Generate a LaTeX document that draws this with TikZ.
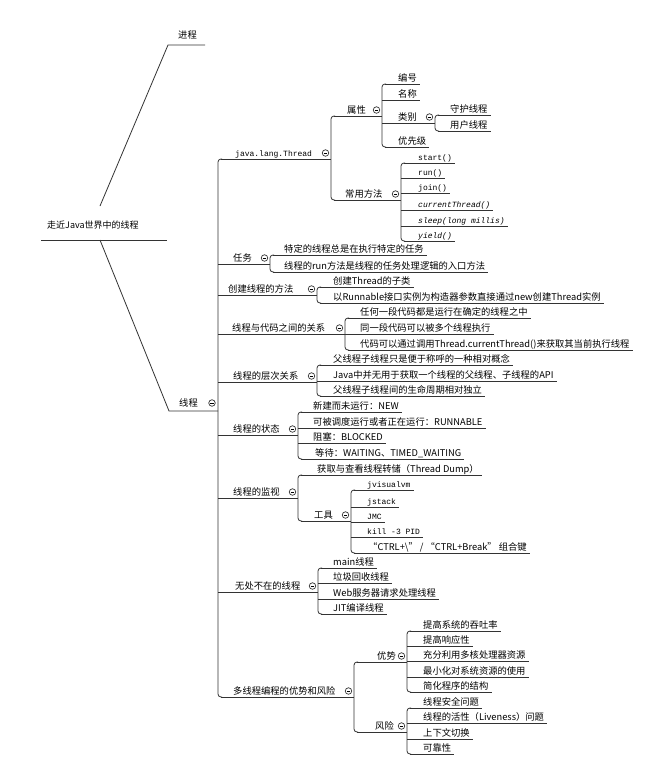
\documentclass[tikz,border=0pt]{standalone}
\usepackage{fontspec}
\setmainfont{Noto Sans CJK SC}
\newfontfamily\lmono{Liberation Mono}
\usetikzlibrary{calc}
% leaf: [style]{name}{startx}{y}{textx}{text}
\newcommand\lf[6][lbl]{%
  \node[#1,anchor=base west] (#2) at (#5,#4-2.5) {#6};
  \draw[ln] (#3,#4) -- ($(#2.east |- #3,#4)+(3,0)$);}
% parent: [style]{name}{startx}{y}{textx}{text}{bracketx}
\newcommand\pn[7][lbl]{%
  \node[#1,anchor=base west] (#2) at (#5,#4-2.5) {#6};
  \draw[ln] (#3,#4) -- (#7,#4);
  \node[tog] (#2c) at (#7-5.5,#4-6) {};
  \draw[line width=0.6pt] ($(#2c)+(-1.7,0)$) -- ($(#2c)+(1.7,0)$);}
% bracket: {x}{y1}{y2}
\newcommand\brk[3]{\draw[ln,rounded corners=3pt] (#1+4,#2) -- (#1,#2) -- (#1,#3) -- (#1+4,#3);}
\begin{document}
\begin{tikzpicture}[x=1pt,y=-1pt,
  ln/.style={draw=black!80,line width=0.8pt},
  lbl/.style={inner sep=0pt,font=\fontsize{9.3}{11}\selectfont,text=black},
  lat/.style={inner sep=0pt,font=\lmono\fontsize{8}{10}\selectfont,text=black},
  lati/.style={inner sep=0pt,font=\lmono\itshape\fontsize{8}{10}\selectfont,text=black},
  tog/.style={circle,draw=black!80,line width=0.7pt,inner sep=0pt,minimum size=6.5pt}]
\useasboundingbox (0,0) rectangle (670,761);
\fill[white] (0,0) rectangle (670,761);

% root
\node[lbl,anchor=base west,font=\fontsize{9}{11}\selectfont] (root) at (47,228) {走近Java世界中的线程};
\draw[ln] (41,240) -- (167,240);
\node[lbl,anchor=base west] (jc) at (178,38.5) {进程};
\draw[ln] (100,206) -- (168,45) -- (205,45);
\node[lbl,anchor=base west] (xc) at (179,406) {线程};
\draw[ln] (100,240) -- (169,411) -- (218,411);
\node[tog] (xcc) at (212,403) {};
\draw[line width=0.6pt] ($(xcc)+(-1.7,0)$) -- ($(xcc)+(1.7,0)$);

% main bracket
\brk{218}{159}{697}

% java.lang.Thread
\pn[lat]{jlt}{221}{159}{235}{java.lang.Thread}{331}
\brk{331}{116}{200}
\pn{sx}{334}{116}{347}{属性}{382}
\brk{382}{84}{147}
\lf{bh}{385}{84}{398}{编号}
\lf{mc}{382}{100}{398}{名称}
\pn{lb}{382}{123}{398}{类别}{435}
\brk{435}{115}{131}
\lf{sh}{438}{115}{450}{守护线程}
\lf{yh}{438}{131}{450}{用户线程}
\lf{yxj}{385}{147}{398}{优先级}
\pn{cy}{334}{200}{345}{常用方法}{401}
\brk{401}{163}{241}
\lf[lat]{m1}{404}{163}{418}{start()}
\lf[lat]{m2}{401}{178}{418}{run()}
\lf[lat]{m3}{401}{193}{418}{join()}
\lf[lati]{m4}{401}{210}{418}{currentThread()}
\lf[lati]{m5}{401}{226}{418}{sleep(long millis)}
\lf[lati]{m6}{404}{241}{418}{yield()}

% 任务
\pn{rw}{218}{264}{233}{任务}{270}
\brk{270}{255}{272}
\lf{rw1}{273}{255}{284}{特定的线程总是在执行特定的任务}
\lf{rw2}{273}{272}{284}{线程的run方法是线程的任务处理逻辑的入口方法}

% 创建线程的方法
\pn{cj}{218}{295}{228}{创建线程的方法}{317}
\brk{317}{287}{303}
\lf{cj1}{320}{287}{333}{创建Thread的子类}
\lf{cj2}{320}{303}{333}{以Runnable接口实例为构造器参数直接通过new创建Thread实例}

% 线程与代码之间的关系
\pn{gx}{218}{334}{232}{线程与代码之间的关系}{345}
\brk{345}{318}{350}
\lf{gx1}{348}{318}{360}{任何一段代码都是运行在确定的线程之中}
\lf{gx2}{345}{334}{360}{同一段代码可以被多个线程执行}
\lf{gx3}{348}{350}{360}{代码可以通过调用Thread.currentThread()来获取其当前执行线程}

% 线程的层次关系
\pn{cc}{218}{382}{233}{线程的层次关系}{317}
\brk{317}{365}{396}
\lf{cc1}{320}{365}{333}{父线程子线程只是便于称呼的一种相对概念}
\lf{cc2}{317}{381}{333}{Java中并无用于获取一个线程的父线程、子线程的API}
\lf{cc3}{320}{396}{333}{父线程子线程间的生命周期相对独立}

% 线程的状态
\pn{zt}{218}{435}{233}{线程的状态}{298}
\brk{298}{412}{459}
\lf{zt1}{301}{412}{313}{新建而未运行：NEW}
\lf{zt2}{298}{428}{313}{可被调度运行或者正在运行：RUNNABLE}
\lf{zt3}{298}{443}{313}{阻塞：BLOCKED}
\lf{zt4}{301}{459}{315}{等待：WAITING、TIMED\_WAITING}

% 线程的监视
\pn{js}{218}{498}{233}{线程的监视}{298}
\brk{298}{475}{521}
\lf{js1}{301}{475}{317}{获取与查看线程转储（Thread Dump）}
\pn{gj}{301}{521}{314}{工具}{351}
\brk{351}{490}{553}
\lf[lat]{gj1}{354}{490}{367}{jvisualvm}
\lf[lat]{gj2}{351}{507}{367}{jstack}
\lf[lat]{gj3}{351}{522}{367}{JMC}
\lf[lat]{gj4}{351}{537}{367}{kill -3 PID}
\lf{gj5}{354}{553}{368}{“CTRL+\textbackslash” / “CTRL+Break” 组合键}

% 无处不在的线程
\pn{wc}{218}{592}{235}{无处不在的线程}{318}
\brk{318}{568}{614}
\lf{wc1}{321}{568}{333}{main线程}
\lf{wc2}{318}{583}{333}{垃圾回收线程}
\lf{wc3}{318}{599}{333}{Web服务器请求处理线程}
\lf{wc4}{321}{614}{333}{JIT编译线程}

% 多线程编程的优势和风险
\pn{dx}{221}{697}{233}{多线程编程的优势和风险}{354}
\brk{354}{662}{732}
\pn{ys}{357}{662}{377}{优势}{407}
\brk{407}{631}{692}
\lf{ys1}{410}{631}{423}{提高系统的吞吐率}
\lf{ys2}{407}{646}{423}{提高响应性}
\lf{ys3}{407}{661}{423}{充分利用多核处理器资源}
\lf{ys4}{407}{677}{423}{最小化对系统资源的使用}
\lf{ys5}{410}{692}{423}{简化程序的结构}
\pn{fx}{357}{732}{375}{风险}{407}
\brk{407}{708}{754}
\lf{fx1}{410}{708}{423}{线程安全问题}
\lf{fx2}{407}{723}{423}{线程的活性（Liveness）问题}
\lf{fx3}{407}{739}{423}{上下文切换}
\lf{fx4}{410}{754}{423}{可靠性}
\end{tikzpicture}
\end{document}
